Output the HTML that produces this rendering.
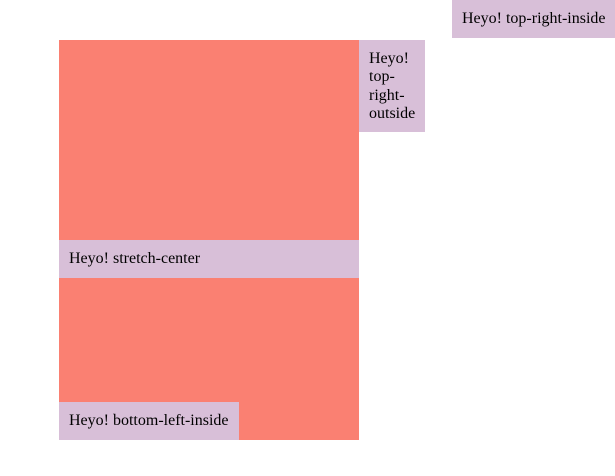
<!DOCTYPE html>
<html><head><style>
html,body{margin:0;padding:0;width:615px;height:476px;background:#fff;overflow:hidden;font-family:"Liberation Serif",serif;font-size:16px;line-height:18.4px;color:#000}
.b{position:absolute;background:#d8bfd8;box-sizing:border-box;padding:10px}
</style></head><body>
<div style="position:absolute;left:59px;top:40px;width:300px;height:400px;background:#fa8072"></div>
<div class="b" style="left:452px;top:0;width:163px;height:38px;white-space:nowrap">Heyo! top-right-inside</div>
<div class="b" style="left:359px;top:40px;width:66px;height:92px">Heyo!<br>top-<br>right-<br>outside</div>
<div class="b" style="left:59px;top:240px;width:300px;height:38px;white-space:nowrap">Heyo! stretch-center</div>
<div class="b" style="left:59px;top:402px;width:180px;height:38px;white-space:nowrap">Heyo! bottom-left-inside</div>
</body></html>
